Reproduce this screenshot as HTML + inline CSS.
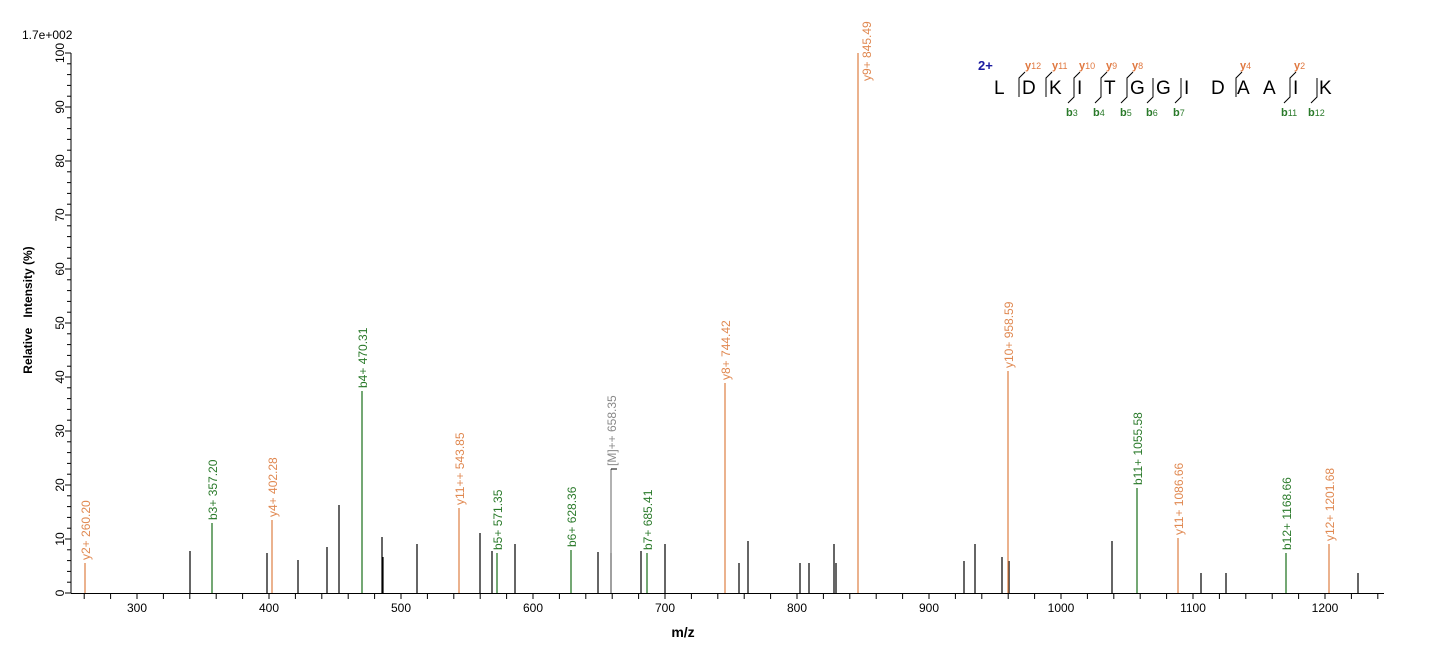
<!DOCTYPE html>
<html><head><meta charset="utf-8"><style>
body{margin:0;background:#fff;width:1436px;height:652px;overflow:hidden}
svg{display:block;font-family:"Liberation Sans",Arial,sans-serif}
</style></head><body>
<svg width="1436" height="652" viewBox="0 0 1436 652" xmlns="http://www.w3.org/2000/svg">
<text x="22" y="39" font-size="12">1.7e+002</text>
<g stroke="#000" stroke-width="1">
<line x1="71" y1="53" x2="71" y2="593"/>
<line x1="71" y1="593.5" x2="1384" y2="593.5"/>
</g>
<g id="yt" stroke="#000" stroke-width="1"></g>
<g id="xt" stroke="#000" stroke-width="1"></g>
<g id="yl" font-size="12"></g>
<g id="xl" font-size="12" text-anchor="middle"></g>
<text transform="translate(32,310) rotate(-90)" font-size="12" font-weight="bold" text-anchor="middle">Relative&#160;&#160;&#160;Intensity (%)</text>
<text x="683" y="637" font-size="14" font-weight="bold" text-anchor="middle">m/z</text>
<g id="pk"></g>
<g id="lb" font-size="12"></g>
<text x="978" y="70" font-size="13" font-weight="bold" fill="#1a1aa0">2+</text>
<g font-size="19" fill="#000">
<text x="994" y="94">L</text><text x="1022" y="94">D</text><text x="1049" y="94">K</text><text x="1077" y="94">I</text><text x="1104" y="94">T</text><text x="1130" y="94">G</text><text x="1156" y="94">G</text><text x="1184" y="94">I</text><text x="1211" y="94">D</text><text x="1237" y="94">A</text><text x="1263" y="94">A</text><text x="1293" y="94">I</text><text x="1319" y="94">K</text>
</g>
<g font-size="11" font-weight="bold" fill="#e07840">
<text x="1025" y="69">y<tspan font-size="9" font-weight="normal">12</tspan></text>
<text x="1052" y="69">y<tspan font-size="9" font-weight="normal">11</tspan></text>
<text x="1079" y="69">y<tspan font-size="9" font-weight="normal">10</tspan></text>
<text x="1106" y="69">y<tspan font-size="9" font-weight="normal">9</tspan></text>
<text x="1132" y="69">y<tspan font-size="9" font-weight="normal">8</tspan></text>
<text x="1240" y="69">y<tspan font-size="9" font-weight="normal">4</tspan></text>
<text x="1294" y="69">y<tspan font-size="9" font-weight="normal">2</tspan></text>
</g>
<g font-size="11" font-weight="bold" fill="#2a7a2a">
<text x="1066" y="116">b<tspan font-size="9" font-weight="normal">3</tspan></text>
<text x="1093" y="116">b<tspan font-size="9" font-weight="normal">4</tspan></text>
<text x="1120" y="116">b<tspan font-size="9" font-weight="normal">5</tspan></text>
<text x="1146" y="116">b<tspan font-size="9" font-weight="normal">6</tspan></text>
<text x="1173" y="116">b<tspan font-size="9" font-weight="normal">7</tspan></text>
<text x="1281" y="116">b<tspan font-size="9" font-weight="normal">11</tspan></text>
<text x="1308" y="116">b<tspan font-size="9" font-weight="normal">12</tspan></text>
</g>
<g id="br" stroke="#000" stroke-width="1" fill="none"></g>
</svg>
<script>
var NS="http://www.w3.org/2000/svg";
function el(p,t,a,txt){var e=document.createElementNS(NS,t);for(var k in a)e.setAttribute(k,a[k]);if(txt!=null)e.textContent=txt;document.getElementById(p).appendChild(e);return e;}
for(var v=0;v<=100;v+=2){var y=593-v*5.4;el("yt","line",{x1:v%10?67:65,y1:y,x2:71,y2:y});
 if(v%10==0){el("yl","text",{transform:"translate(64,"+y+") rotate(-90)","text-anchor":"middle"},v);}}
for(var m=260;m<=1240;m+=20){var x=137+(m-300)*1.32;el("xt","line",{x1:x,y1:593,x2:x,y2:599});
 if(m%100==0)el("xl","text",{x:x,y:612},m);}
var blk=[[190,551],[267,553],[298,560],[327,547],[339,505],[382,537],[383,557],[417,544],[480,533],[492,551],[515,544],[598,552],[611,553],[641,551],[665,544],[739,563],[748,541],[800,563],[809,563],[834,544],[836,563],[964,561],[975,544],[1002,557],[1009,561],[1112,541],[1201,573],[1226,573],[1358,573]];
blk.forEach(function(p){el("pk","line",{x1:p[0],y1:593,x2:p[0],y2:p[1],stroke:"#000","stroke-width":1.2});});
var O="#e08850",G="#2a7a2a",g="#888";
var col=[[85,563,O,"y2+ 260.20"],[212,523,G,"b3+ 357.20"],[272,520,O,"y4+ 402.28"],[362,391,G,"b4+ 470.31"],[459,508,O,"y11++ 543.85"],[497,553,G,"b5+ 571.35"],[571,550,G,"b6+ 628.36"],[611,469,g,"[M]++ 658.35"],[647,553,G,"b7+ 685.41"],[725,383,O,"y8+ 744.42"],[858,53,O,"y9+ 845.49"],[1008,371,O,"y10+ 958.59"],[1137,488,G,"b11+ 1055.58"],[1178,538,O,"y11+ 1086.66"],[1286,553,G,"b12+ 1168.66"],[1329,544,O,"y12+ 1201.68"]];
col.forEach(function(p){el("pk","line",{x1:p[0],y1:593,x2:p[0],y2:p[1],stroke:p[2],"stroke-width":1.3});
 var tr = p[3]=="y9+ 845.49" ? "translate(871,81) rotate(-90)" : "translate("+(p[0]+5)+","+(p[1]-3)+") rotate(-90)";
 el("lb","text",{transform:tr,fill:p[2]},p[3]);});
el("pk","line",{x1:611,y1:469,x2:617,y2:469,stroke:"#000"});
var yb=[1019,1046,1074,1101,1127,1236,1290], bb=[1074,1101,1127,1153,1181,1290,1317];
var all={};yb.forEach(function(x){all[x]=(all[x]||"")+"y";});bb.forEach(function(x){all[x]=(all[x]||"")+"b";});
for(var k in all){var x=+k,s=all[k],pts="";
 if(s.indexOf("y")>=0)pts+=(x+6)+",72 ";
 pts+=x+",78 "+x+",97";
 if(s.indexOf("b")>=0)pts+=" "+(x-6)+",103";
 el("br","polyline",{points:pts});}
</script>
</body></html>
